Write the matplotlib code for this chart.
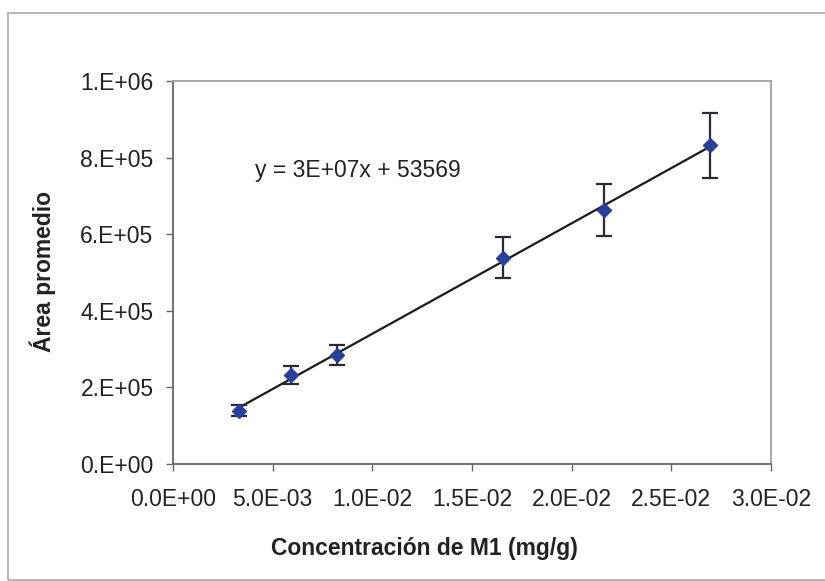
import numpy as np
import matplotlib
matplotlib.use("Agg")
import matplotlib.pyplot as plt
from matplotlib.patches import Rectangle

# values
conc = [0.00331, 0.00592, 0.00822, 0.01655, 0.0216, 0.02693]
area = [1.39e5, 2.33e5, 2.85e5, 5.39e5, 6.62e5, 8.32e5]
area_err = [1.45e4, 2.35e4, 2.7e4, 5.35e4, 6.8e4, 8.5e4]

x_ticks = [0.0, 0.005, 0.01, 0.015, 0.02, 0.025, 0.03]
x_labels = ["0.0E+00", "5.0E-03", "1.0E-02", "1.5E-02", "2.0E-02", "2.5E-02", "3.0E-02"]
y_ticks = [0, 2e5, 4e5, 6e5, 8e5, 1e6]
y_labels = ["0.E+00", "2.E+05", "4.E+05", "6.E+05", "8.E+05", "1.E+06"]
equation = "y = 3E+07x + 53569"

plt.rcParams['font.family'] = ['Liberation Sans', 'DejaVu Sans']
txt = "#222222"

W, H = 825, 581
fig = plt.figure(figsize=(W / 100, H / 100), dpi=100)
fig.patch.set_facecolor("white")
ax = fig.add_axes([173 / W, 1 - 464 / H, (771 - 173) / W, (464 - 81) / H])

# linear trendline fitted to the points
m, b = np.polyfit(conc, area, 1)
xs = np.array([min(conc), max(conc)])
ax.plot(xs, m * xs + b, color="#1a1a1a", lw=1.6, zorder=2)

ax.errorbar(conc, area, yerr=area_err, fmt="D", color="#2a3f9a", ms=7.5,
            ecolor="#2a2a35", elinewidth=1.6, capsize=6, capthick=1.6, zorder=3)

ax.set_xlim(0, 0.03)
ax.set_ylim(0, 1e6)
ax.set_xticks(x_ticks)
ax.set_xticklabels(x_labels)
ax.set_yticks(y_ticks)
ax.set_yticklabels(y_labels)
ax.tick_params(direction="out", length=5, width=1, color="#666666",
               labelsize=16.5, labelcolor=txt)
ax.tick_params(axis="x", pad=12)
ax.tick_params(axis="y", pad=9)

for s in ["left", "bottom"]:
    ax.spines[s].set_color("#666666")
    ax.spines[s].set_linewidth(1.3)
for s in ["top", "right"]:
    ax.spines[s].set_color("#a0a0a0")
    ax.spines[s].set_linewidth(1.3)

ax.text((255 - 173) / (771 - 173), (464 - 171) / (464 - 81), equation,
        transform=ax.transAxes, ha="left", va="center", fontsize=16.5, color=txt)

fig.text(424 / W, 1 - 548 / H, "Concentración de M1 (mg/g)", ha="center", va="center",
         fontsize=16.5, fontweight="bold", color=txt)
fig.text(43 / W, 1 - 272 / H, "Área promedio", ha="center", va="center", rotation=90,
         fontsize=16.5, fontweight="bold", color=txt)

# outer chart border
fig.patches.append(Rectangle((8 / W, 1 - 580 / H), (840 - 8) / W, (580 - 13) / H,
                             transform=fig.transFigure, fill=False,
                             edgecolor="#b5b5b5", lw=1.5))

fig.savefig("out.png", dpi=100)
